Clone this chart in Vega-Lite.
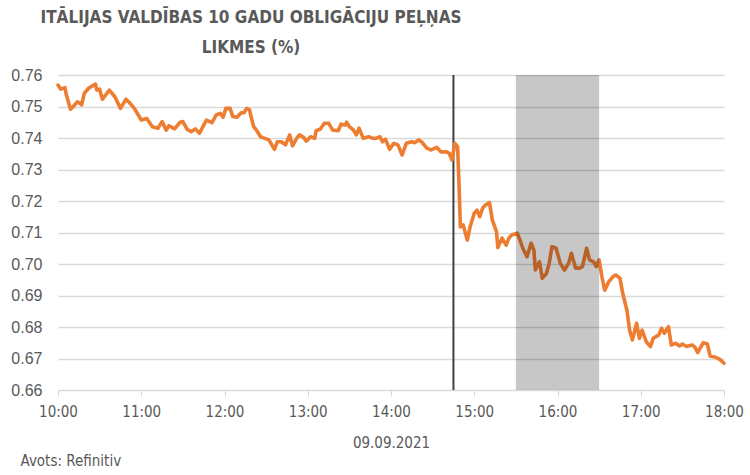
{
  "$schema": "https://vega.github.io/schema/vega-lite/v6.json",
  "autosize": "none",
  "width": 666,
  "height": 315,
  "padding": {"left": 58, "top": 75, "right": 26, "bottom": 85},
  "background": "white",
  "title": {
    "text": ["ITĀLIJAS VALDĪBAS 10 GADU OBLIGĀCIJU PEĻŅAS", "LIKMES (%)"],
    "anchor": "middle",
    "align": "center",
    "frame": "group",
    "dx": -140,
    "font": "DejaVu Sans Condensed, Liberation Sans",
    "fontSize": 17,
    "fontWeight": "bold",
    "color": "#595959",
    "lineHeight": 30,
    "offset": 10
  },
  "datasets": {
    "yields": [
      {"time": "2021-09-09T10:00", "value": 0.7568},
      {"time": "2021-09-09T10:02", "value": 0.7555},
      {"time": "2021-09-09T10:05", "value": 0.7560},
      {"time": "2021-09-09T10:06", "value": 0.7537},
      {"time": "2021-09-09T10:09", "value": 0.7491},
      {"time": "2021-09-09T10:11", "value": 0.7500},
      {"time": "2021-09-09T10:14", "value": 0.7515},
      {"time": "2021-09-09T10:16", "value": 0.7510},
      {"time": "2021-09-09T10:17", "value": 0.7505},
      {"time": "2021-09-09T10:19", "value": 0.7542},
      {"time": "2021-09-09T10:22", "value": 0.7558},
      {"time": "2021-09-09T10:27", "value": 0.7571},
      {"time": "2021-09-09T10:28", "value": 0.7552},
      {"time": "2021-09-09T10:30", "value": 0.7555},
      {"time": "2021-09-09T10:32", "value": 0.7523},
      {"time": "2021-09-09T10:37", "value": 0.7552},
      {"time": "2021-09-09T10:41", "value": 0.7531},
      {"time": "2021-09-09T10:45", "value": 0.7494},
      {"time": "2021-09-09T10:49", "value": 0.7523},
      {"time": "2021-09-09T10:52", "value": 0.7510},
      {"time": "2021-09-09T10:55", "value": 0.7494},
      {"time": "2021-09-09T11:00", "value": 0.7457},
      {"time": "2021-09-09T11:04", "value": 0.7462},
      {"time": "2021-09-09T11:08", "value": 0.7436},
      {"time": "2021-09-09T11:12", "value": 0.7431},
      {"time": "2021-09-09T11:15", "value": 0.7452},
      {"time": "2021-09-09T11:18", "value": 0.7425},
      {"time": "2021-09-09T11:20", "value": 0.7439},
      {"time": "2021-09-09T11:24", "value": 0.7429},
      {"time": "2021-09-09T11:28", "value": 0.7450},
      {"time": "2021-09-09T11:30", "value": 0.7452},
      {"time": "2021-09-09T11:33", "value": 0.7428},
      {"time": "2021-09-09T11:36", "value": 0.7420},
      {"time": "2021-09-09T11:39", "value": 0.7429},
      {"time": "2021-09-09T11:42", "value": 0.7415},
      {"time": "2021-09-09T11:45", "value": 0.7441},
      {"time": "2021-09-09T11:47", "value": 0.7457},
      {"time": "2021-09-09T11:51", "value": 0.7449},
      {"time": "2021-09-09T11:54", "value": 0.7473},
      {"time": "2021-09-09T11:57", "value": 0.7478},
      {"time": "2021-09-09T11:59", "value": 0.7466},
      {"time": "2021-09-09T12:01", "value": 0.7494},
      {"time": "2021-09-09T12:04", "value": 0.7494},
      {"time": "2021-09-09T12:06", "value": 0.7468},
      {"time": "2021-09-09T12:09", "value": 0.7466},
      {"time": "2021-09-09T12:12", "value": 0.7480},
      {"time": "2021-09-09T12:14", "value": 0.7480},
      {"time": "2021-09-09T12:16", "value": 0.7494},
      {"time": "2021-09-09T12:18", "value": 0.7490},
      {"time": "2021-09-09T12:19", "value": 0.7470},
      {"time": "2021-09-09T12:21", "value": 0.7436},
      {"time": "2021-09-09T12:23", "value": 0.7425},
      {"time": "2021-09-09T12:26", "value": 0.7404},
      {"time": "2021-09-09T12:29", "value": 0.7399},
      {"time": "2021-09-09T12:32", "value": 0.7394},
      {"time": "2021-09-09T12:36", "value": 0.7364},
      {"time": "2021-09-09T12:38", "value": 0.7388},
      {"time": "2021-09-09T12:41", "value": 0.7388},
      {"time": "2021-09-09T12:44", "value": 0.7378},
      {"time": "2021-09-09T12:47", "value": 0.7410},
      {"time": "2021-09-09T12:49", "value": 0.7375},
      {"time": "2021-09-09T12:52", "value": 0.7399},
      {"time": "2021-09-09T12:54", "value": 0.7410},
      {"time": "2021-09-09T12:57", "value": 0.7402},
      {"time": "2021-09-09T12:59", "value": 0.7390},
      {"time": "2021-09-09T13:02", "value": 0.7404},
      {"time": "2021-09-09T13:05", "value": 0.7399},
      {"time": "2021-09-09T13:06", "value": 0.7423},
      {"time": "2021-09-09T13:09", "value": 0.7428},
      {"time": "2021-09-09T13:12", "value": 0.7447},
      {"time": "2021-09-09T13:15", "value": 0.7447},
      {"time": "2021-09-09T13:18", "value": 0.7425},
      {"time": "2021-09-09T13:22", "value": 0.7423},
      {"time": "2021-09-09T13:24", "value": 0.7444},
      {"time": "2021-09-09T13:27", "value": 0.7441},
      {"time": "2021-09-09T13:28", "value": 0.7450},
      {"time": "2021-09-09T13:30", "value": 0.7436},
      {"time": "2021-09-09T13:33", "value": 0.7425},
      {"time": "2021-09-09T13:35", "value": 0.7410},
      {"time": "2021-09-09T13:37", "value": 0.7431},
      {"time": "2021-09-09T13:40", "value": 0.7399},
      {"time": "2021-09-09T13:44", "value": 0.7404},
      {"time": "2021-09-09T13:47", "value": 0.7399},
      {"time": "2021-09-09T13:49", "value": 0.7399},
      {"time": "2021-09-09T13:52", "value": 0.7404},
      {"time": "2021-09-09T13:54", "value": 0.7388},
      {"time": "2021-09-09T13:56", "value": 0.7396},
      {"time": "2021-09-09T13:59", "value": 0.7364},
      {"time": "2021-09-09T14:02", "value": 0.7383},
      {"time": "2021-09-09T14:05", "value": 0.7378},
      {"time": "2021-09-09T14:08", "value": 0.7346},
      {"time": "2021-09-09T14:11", "value": 0.7383},
      {"time": "2021-09-09T14:15", "value": 0.7388},
      {"time": "2021-09-09T14:17", "value": 0.7385},
      {"time": "2021-09-09T14:20", "value": 0.7394},
      {"time": "2021-09-09T14:22", "value": 0.7388},
      {"time": "2021-09-09T14:26", "value": 0.7367},
      {"time": "2021-09-09T14:29", "value": 0.7362},
      {"time": "2021-09-09T14:33", "value": 0.7370},
      {"time": "2021-09-09T14:36", "value": 0.7356},
      {"time": "2021-09-09T14:40", "value": 0.7356},
      {"time": "2021-09-09T14:42", "value": 0.7351},
      {"time": "2021-09-09T14:44", "value": 0.7330},
      {"time": "2021-09-09T14:46", "value": 0.7383},
      {"time": "2021-09-09T14:48", "value": 0.7372},
      {"time": "2021-09-09T14:49", "value": 0.7256},
      {"time": "2021-09-09T14:50", "value": 0.7118},
      {"time": "2021-09-09T14:52", "value": 0.7124},
      {"time": "2021-09-09T14:55", "value": 0.7076},
      {"time": "2021-09-09T14:57", "value": 0.7118},
      {"time": "2021-09-09T15:00", "value": 0.7161},
      {"time": "2021-09-09T15:02", "value": 0.7171},
      {"time": "2021-09-09T15:04", "value": 0.7150},
      {"time": "2021-09-09T15:06", "value": 0.7177},
      {"time": "2021-09-09T15:08", "value": 0.7187},
      {"time": "2021-09-09T15:11", "value": 0.7195},
      {"time": "2021-09-09T15:13", "value": 0.7140},
      {"time": "2021-09-09T15:16", "value": 0.7103},
      {"time": "2021-09-09T15:17", "value": 0.7052},
      {"time": "2021-09-09T15:20", "value": 0.7082},
      {"time": "2021-09-09T15:23", "value": 0.7060},
      {"time": "2021-09-09T15:25", "value": 0.7082},
      {"time": "2021-09-09T15:27", "value": 0.7092},
      {"time": "2021-09-09T15:31", "value": 0.7098},
      {"time": "2021-09-09T15:33", "value": 0.7076},
      {"time": "2021-09-09T15:35", "value": 0.7050},
      {"time": "2021-09-09T15:38", "value": 0.7023},
      {"time": "2021-09-09T15:41", "value": 0.7066},
      {"time": "2021-09-09T15:43", "value": 0.7044},
      {"time": "2021-09-09T15:44", "value": 0.6981},
      {"time": "2021-09-09T15:47", "value": 0.7007},
      {"time": "2021-09-09T15:49", "value": 0.6955},
      {"time": "2021-09-09T15:52", "value": 0.6970},
      {"time": "2021-09-09T15:54", "value": 0.7002},
      {"time": "2021-09-09T15:56", "value": 0.7055},
      {"time": "2021-09-09T15:59", "value": 0.7050},
      {"time": "2021-09-09T16:02", "value": 0.7002},
      {"time": "2021-09-09T16:05", "value": 0.6981},
      {"time": "2021-09-09T16:08", "value": 0.7002},
      {"time": "2021-09-09T16:10", "value": 0.7034},
      {"time": "2021-09-09T16:13", "value": 0.6987},
      {"time": "2021-09-09T16:16", "value": 0.6987},
      {"time": "2021-09-09T16:18", "value": 0.6992},
      {"time": "2021-09-09T16:21", "value": 0.7050},
      {"time": "2021-09-09T16:23", "value": 0.7013},
      {"time": "2021-09-09T16:26", "value": 0.7007},
      {"time": "2021-09-09T16:28", "value": 0.6992},
      {"time": "2021-09-09T16:30", "value": 0.7013},
      {"time": "2021-09-09T16:32", "value": 0.6960},
      {"time": "2021-09-09T16:34", "value": 0.6917},
      {"time": "2021-09-09T16:37", "value": 0.6944},
      {"time": "2021-09-09T16:40", "value": 0.6960},
      {"time": "2021-09-09T16:42", "value": 0.6965},
      {"time": "2021-09-09T16:45", "value": 0.6955},
      {"time": "2021-09-09T16:47", "value": 0.6907},
      {"time": "2021-09-09T16:50", "value": 0.6854},
      {"time": "2021-09-09T16:52", "value": 0.6790},
      {"time": "2021-09-09T16:54", "value": 0.6759},
      {"time": "2021-09-09T16:57", "value": 0.6812},
      {"time": "2021-09-09T16:59", "value": 0.6764},
      {"time": "2021-09-09T17:01", "value": 0.6790},
      {"time": "2021-09-09T17:04", "value": 0.6753},
      {"time": "2021-09-09T17:07", "value": 0.6738},
      {"time": "2021-09-09T17:09", "value": 0.6764},
      {"time": "2021-09-09T17:13", "value": 0.6775},
      {"time": "2021-09-09T17:15", "value": 0.6796},
      {"time": "2021-09-09T17:17", "value": 0.6780},
      {"time": "2021-09-09T17:20", "value": 0.6801},
      {"time": "2021-09-09T17:22", "value": 0.6743},
      {"time": "2021-09-09T17:25", "value": 0.6748},
      {"time": "2021-09-09T17:28", "value": 0.6740},
      {"time": "2021-09-09T17:30", "value": 0.6746},
      {"time": "2021-09-09T17:33", "value": 0.6738},
      {"time": "2021-09-09T17:37", "value": 0.6743},
      {"time": "2021-09-09T17:39", "value": 0.6736},
      {"time": "2021-09-09T17:41", "value": 0.6719},
      {"time": "2021-09-09T17:45", "value": 0.6750},
      {"time": "2021-09-09T17:48", "value": 0.6746},
      {"time": "2021-09-09T17:50", "value": 0.6708},
      {"time": "2021-09-09T17:54", "value": 0.6704},
      {"time": "2021-09-09T17:57", "value": 0.6697},
      {"time": "2021-09-09T18:00", "value": 0.6685}
    ],
    "events": [
      {"time": "2021-09-09T14:45"}
    ],
    "periods": [
      {"start": "2021-09-09T15:30", "end": "2021-09-09T16:30"}
    ],
    "notes": [
      {"time": "2021-09-09T09:33", "value": 0.6375, "note": "Avots: Refinitiv"}
    ]
  },
  "layer": [
    {
      "data": {"name": "events"},
      "mark": {"type": "rule", "color": "#404040", "strokeWidth": 2},
      "encoding": {
        "x": {"field": "time", "type": "temporal"}
      }
    },
    {
      "data": {"name": "yields"},
      "mark": {"type": "line", "color": "#ED7D31", "strokeWidth": 3.6, "strokeJoin": "round", "strokeCap": "round"},
      "encoding": {
        "x": {
          "field": "time",
          "type": "temporal",
          "scale": {
            "domain": ["2021-09-09T10:00", "2021-09-09T18:00"],
            "nice": false
          },
          "axis": {
            "title": "09.09.2021",
            "format": "%H:%M",
            "values": ["2021-09-09T10:00", "2021-09-09T11:00", "2021-09-09T12:00", "2021-09-09T13:00", "2021-09-09T14:00", "2021-09-09T15:00", "2021-09-09T16:00", "2021-09-09T17:00", "2021-09-09T18:00"],
            "grid": false,
            "domainColor": "#d9d9d9",
            "domainWidth": 1,
            "tickColor": "#d9d9d9",
            "tickSize": 6,
            "labelFont": "DejaVu Sans Condensed, Liberation Sans",
            "labelFontSize": 15,
            "labelColor": "#595959",
            "labelPadding": 8,
            "labelFlush": false,
            "labelOverlap": false,
            "titleFont": "DejaVu Sans Condensed, Liberation Sans",
            "titleFontSize": 15,
            "titleFontWeight": "normal",
            "titleColor": "#595959",
            "titlePadding": 16
          }
        },
        "y": {
          "field": "value",
          "type": "quantitative",
          "scale": {"domain": [0.66, 0.76], "nice": false, "zero": false},
          "axis": {
            "title": null,
            "values": [0.66, 0.67, 0.68, 0.69, 0.70, 0.71, 0.72, 0.73, 0.74, 0.75, 0.76],
            "format": ".2f",
            "domain": false,
            "ticks": false,
            "labelOverlap": false,
            "gridColor": "#d9d9d9",
            "gridWidth": 1.5,
            "labelFont": "Liberation Sans",
            "labelFontSize": 16,
            "labelColor": "#595959",
            "labelPadding": 16
          }
        }
      }
    },
    {
      "data": {"name": "periods"},
      "mark": {"type": "rect", "color": "#000000", "opacity": 0.22},
      "encoding": {
        "x": {"field": "start", "type": "temporal"},
        "x2": {"field": "end"}
      }
    },
    {
      "data": {"name": "notes"},
      "mark": {"type": "text", "align": "left", "baseline": "middle", "font": "DejaVu Sans Condensed, Liberation Sans", "fontSize": 15, "color": "#595959"},
      "encoding": {
        "text": {"field": "note"},
        "x": {"field": "time", "type": "temporal"},
        "y": {
          "field": "value",
          "type": "quantitative",
          "axis": {
            "title": null,
            "values": [0.66, 0.67, 0.68, 0.69, 0.70, 0.71, 0.72, 0.73, 0.74, 0.75, 0.76],
            "format": ".2f",
            "domain": false,
            "ticks": false,
            "labelOverlap": false,
            "gridColor": "#d9d9d9",
            "gridWidth": 1.5,
            "labelFont": "Liberation Sans",
            "labelFontSize": 16,
            "labelColor": "#595959",
            "labelPadding": 16
          }
        }
      }
    }
  ],
  "config": {
    "view": {"stroke": null}
  }
}
